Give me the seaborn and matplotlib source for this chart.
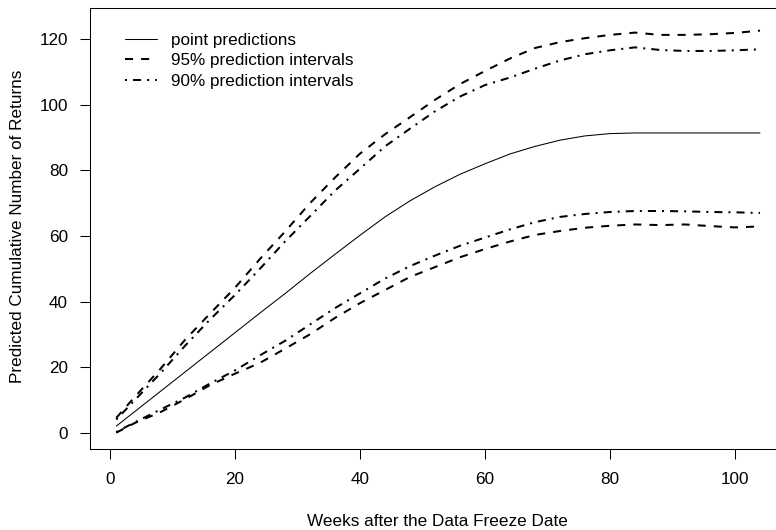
import matplotlib
matplotlib.use("Agg")
import matplotlib.pyplot as plt
import seaborn as sns
import pandas as pd

weeks = [1, 4, 8, 12, 16, 20, 24, 28, 32, 36, 40, 44, 48, 52, 56, 60, 64, 68, 72, 76, 80, 84, 88, 92, 96, 100, 104]
point_pred = [2.0, 6.5, 12.5, 18.5, 24.5, 30.5, 36.5, 42.4, 48.5, 54.4, 60.2, 65.8, 70.7, 75.0, 78.8, 82.0, 85.0, 87.3, 89.2, 90.5, 91.2, 91.4, 91.4, 91.4, 91.4, 91.4, 91.4]
upper95 = [4.5, 11.0, 19.3, 28.3, 36.3, 44.2, 53.0, 61.3, 70.0, 77.8, 85.1, 91.0, 96.2, 101.5, 106.3, 110.3, 114.1, 117.3, 119.1, 120.3, 121.3, 122.0, 121.3, 121.3, 121.5, 121.9, 122.6]
lower95 = [0.0, 3.0, 6.2, 10.2, 14.5, 18.0, 21.3, 25.6, 30.0, 35.0, 39.5, 43.5, 47.5, 50.5, 53.5, 56.0, 58.3, 60.3, 61.5, 62.5, 63.1, 63.5, 63.3, 63.5, 63.0, 62.6, 62.9]
upper90 = [4.0, 10.0, 18.0, 26.5, 34.5, 42.0, 50.0, 58.3, 66.0, 73.8, 80.5, 87.3, 92.7, 98.0, 102.5, 106.0, 108.3, 111.0, 113.5, 115.4, 116.6, 117.5, 116.7, 116.4, 116.4, 116.6, 116.9]
lower90 = [0.2, 3.2, 7.0, 10.7, 15.0, 19.0, 23.6, 28.0, 33.0, 38.0, 42.5, 47.0, 50.8, 54.0, 57.0, 59.5, 62.0, 64.2, 65.8, 66.7, 67.3, 67.6, 67.6, 67.5, 67.3, 67.2, 67.0]

legend_labels = ["point predictions", "95% prediction intervals", "90% prediction intervals"]
x_ticks = [0, 20, 40, 60, 80, 100]
y_ticks = [0, 20, 40, 60, 80, 100, 120]

df = pd.DataFrame({"week": weeks, "point": point_pred, "u95": upper95,
                   "l95": lower95, "u90": upper90, "l90": lower90})

sns.set_theme(style="ticks")
plt.rcParams["font.family"] = ["Liberation Sans", "DejaVu Sans"]

fig = plt.figure(figsize=(7.76, 5.30), dpi=100)
ax = fig.add_axes([90/776, (530-449)/530, (785.8-90)/776, (449-8)/530])

thin = 0.75
thick = 1.45
dash = (0, (4, 4))
dotdash = (0, (1, 3, 4, 3))
fs = 12.3

sns.lineplot(data=df, x="week", y="point", ax=ax, color="black", linewidth=thin,
             linestyle="-", label=legend_labels[0])
sns.lineplot(data=df, x="week", y="u95", ax=ax, color="black", linewidth=thick,
             linestyle=dash, label=legend_labels[1])
sns.lineplot(data=df, x="week", y="l95", ax=ax, color="black", linewidth=thick,
             linestyle=dash)
sns.lineplot(data=df, x="week", y="u90", ax=ax, color="black", linewidth=thick,
             linestyle=dotdash, label=legend_labels[2])
sns.lineplot(data=df, x="week", y="l90", ax=ax, color="black", linewidth=thick,
             linestyle=dotdash)

ax.set_xlim(-3.2, 108.13)
ax.set_ylim(-4.97, 129.5)
ax.set_xticks(x_ticks)
ax.set_yticks(y_ticks)
ax.tick_params(axis="both", direction="out", length=7.2, width=0.75, color="black",
               labelsize=fs, labelcolor="black")
ax.tick_params(axis="x", pad=9.2)
ax.tick_params(axis="y", pad=8.6)
for s in ax.spines.values():
    s.set_visible(True)
    s.set_linewidth(0.75)
    s.set_color("black")

ax.set_xlabel("Weeks after the Data Freeze Date", fontsize=fs, color="black")
ax.set_ylabel("Predicted Cumulative Number of Returns", fontsize=fs, color="black")
ax.xaxis.set_label_coords(0.5, -0.165)
ax.xaxis.label.set_va("center")
ax.yaxis.set_label_coords(-0.1035, 0.506)
ax.yaxis.label.set_va("center")

leg = ax.legend(loc="upper left", bbox_to_anchor=(0.0503, 0.944), frameon=False,
                fontsize=fs, handlelength=1.87, handletextpad=0.82, labelspacing=0.33,
                borderpad=0, borderaxespad=0)
for t in leg.get_texts():
    t.set_color("black")

fig.savefig("out.png", dpi=100)
